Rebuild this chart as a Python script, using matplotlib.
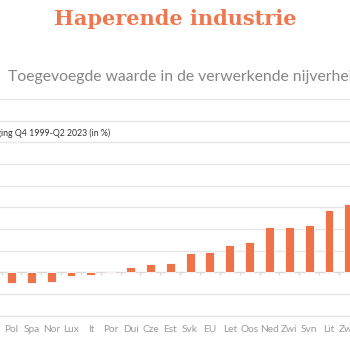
import matplotlib
matplotlib.use("Agg")
import matplotlib.pyplot as plt

# Category labels (chart is cropped on both sides in the reference)
countries = ["Pol", "Spa", "Nor", "Lux", "It", "Por", "Dui", "Cze", "Est",
             "Svk", "EU", "Let", "Oos", "Ned", "Zwi", "Svn", "Lit", "Zwe"]
# Change Q4 1999 - Q2 2023, in %
values = [-5.1, -5.1, -4.3, -1.7, -1.2, -0.3, 2.6, 3.7, 4.2,
          8.9, 9.2, 12.5, 13.8, 21.0, 21.0, 22.0, 28.6, 31.4]
grid_ticks = [-20, -10, 0, 10, 20, 30, 40, 50, 60, 70, 80]

bar_color = "#EF7349"
title_color = "#EF774F"
grid_color = "#E6E6E6"

fig = plt.figure(figsize=(3.5, 3.5), dpi=100)

# axes wider than the figure so the chart appears cropped
ylo, yhi = -20.5, 80.5
px_per_unit = 21.67 / 10
bottom_px = 272.3 + (0 - ylo) * px_per_unit
top_px = 272.3 - (yhi - 0) * px_per_unit
ax = fig.add_axes([0, 1 - bottom_px / 350, 1, (bottom_px - top_px) / 350])

x = list(range(len(countries)))
ax.bar(x, values, width=0.45, color=bar_color, edgecolor="white",
       linewidth=0.6, zorder=3)

ax.set_yticks(grid_ticks)
ax.yaxis.grid(True, color=grid_color, linewidth=1)
ax.set_axisbelow(True)
ax.tick_params(axis="y", left=False, labelleft=False)

for side in ["top", "right", "left"]:
    ax.spines[side].set_visible(False)
ax.spines["bottom"].set_position(("data", 0))
ax.spines["bottom"].set_color("#D8D8D8")
ax.spines["bottom"].set_zorder(2)

ax.set_xticks(x)
ax.set_xticklabels(countries, fontsize=7.3, color="#9A9A9A", family="Lato")
ax.tick_params(axis="x", which="major", length=0, pad=38)
ax.set_xticks([i - 0.5 for i in range(len(countries) + 1)], minor=True)
ax.tick_params(axis="x", which="minor", length=2.5, width=0.8, color="#D8D8D8")

# limits last, set_xticks would widen them otherwise
ax.set_xlim(-0.58, 17.06)
ax.set_ylim(ylo, yhi)

fig.text(0.5, 1 - 19 / 350, "Haperende industrie", ha="center", va="center",
         fontsize=15, fontweight="bold", family="DejaVu Serif", color=title_color)
fig.text(8 / 350, 1 - 76.5 / 350, "Toegevoegde waarde in de verwerkende nijverheid",
         ha="left", va="center", fontsize=11.3, color="#858585", family="Lato")
fig.text(110 / 350, 1 - 133 / 350, "Wijziging Q4 1999-Q2 2023 (in %)",
         ha="right", va="center", fontsize=6.3, color="#333333", family="Lato")

fig.savefig("out.png", dpi=100)
